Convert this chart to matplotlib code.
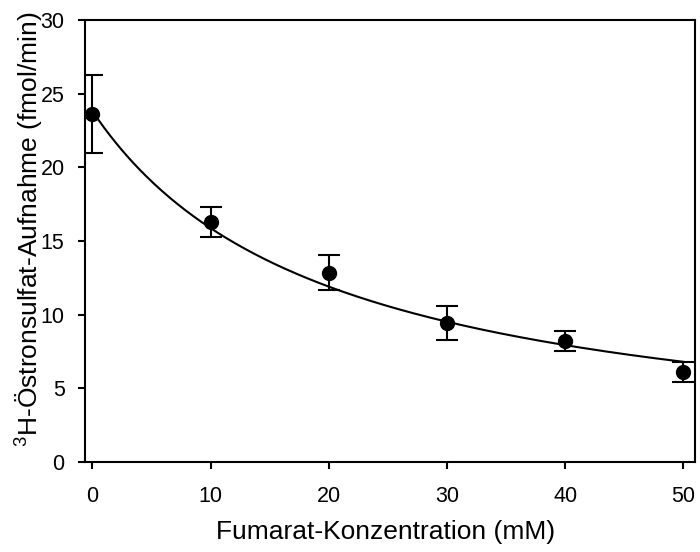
import numpy as np
import matplotlib
matplotlib.use("Agg")
import matplotlib.pyplot as plt

matplotlib.rcParams['font.family'] = ['Liberation Sans', 'DejaVu Sans']
matplotlib.rcParams['mathtext.fontset'] = 'custom'
matplotlib.rcParams['mathtext.rm'] = 'Liberation Sans'

# Messwerte
konz = [0, 10, 20, 30, 40, 50]            # mM Fumarat
aufnahme = [23.6, 16.3, 12.85, 9.45, 8.2, 6.1]   # fmol/min
fehler = [2.65, 1.0, 1.2, 1.17, 0.68, 0.7]

# Fit-Parameter (hyperbolische Hemmung)
y0_fit = 23.8
ic50_fit = 20.0

xticks = [0, 10, 20, 30, 40, 50]
yticks = [0, 5, 10, 15, 20, 25, 30]

fig = plt.figure(figsize=(7, 5.52), dpi=100)
ax = fig.add_axes([0.122, 0.163, 0.871, 0.801])

xs = np.linspace(0, 50, 300)
ax.plot(xs, y0_fit / (1 + xs / ic50_fit), color='k', lw=1.5, zorder=2)

ax.errorbar(konz, aufnahme, yerr=fehler, fmt='o', color='k', ms=10,
            ecolor='k', elinewidth=1.5, capsize=8, capthick=1.5, zorder=3)

ax.set_xlim(-0.6, 51)
ax.set_ylim(0, 30)
ax.set_xticks(xticks)
ax.set_yticks(yticks)

for s in ax.spines.values():
    s.set_linewidth(1.5)
    s.set_color('k')

ax.tick_params(axis='both', direction='out', length=5, width=1.5, labelsize=15.5)
ax.tick_params(axis='y', pad=10)
ax.tick_params(axis='x', pad=12)

ax.set_xlabel('Fumarat-Konzentration (mM)', fontsize=19)
ax.set_ylabel(r'$^{3}$H-Östronsulfat-Aufnahme (fmol/min)', fontsize=19)
ax.xaxis.set_label_coords(0.493, -0.13)
ax.yaxis.set_label_coords(-0.066, 0.527)

plt.savefig('out.png', dpi=100)
